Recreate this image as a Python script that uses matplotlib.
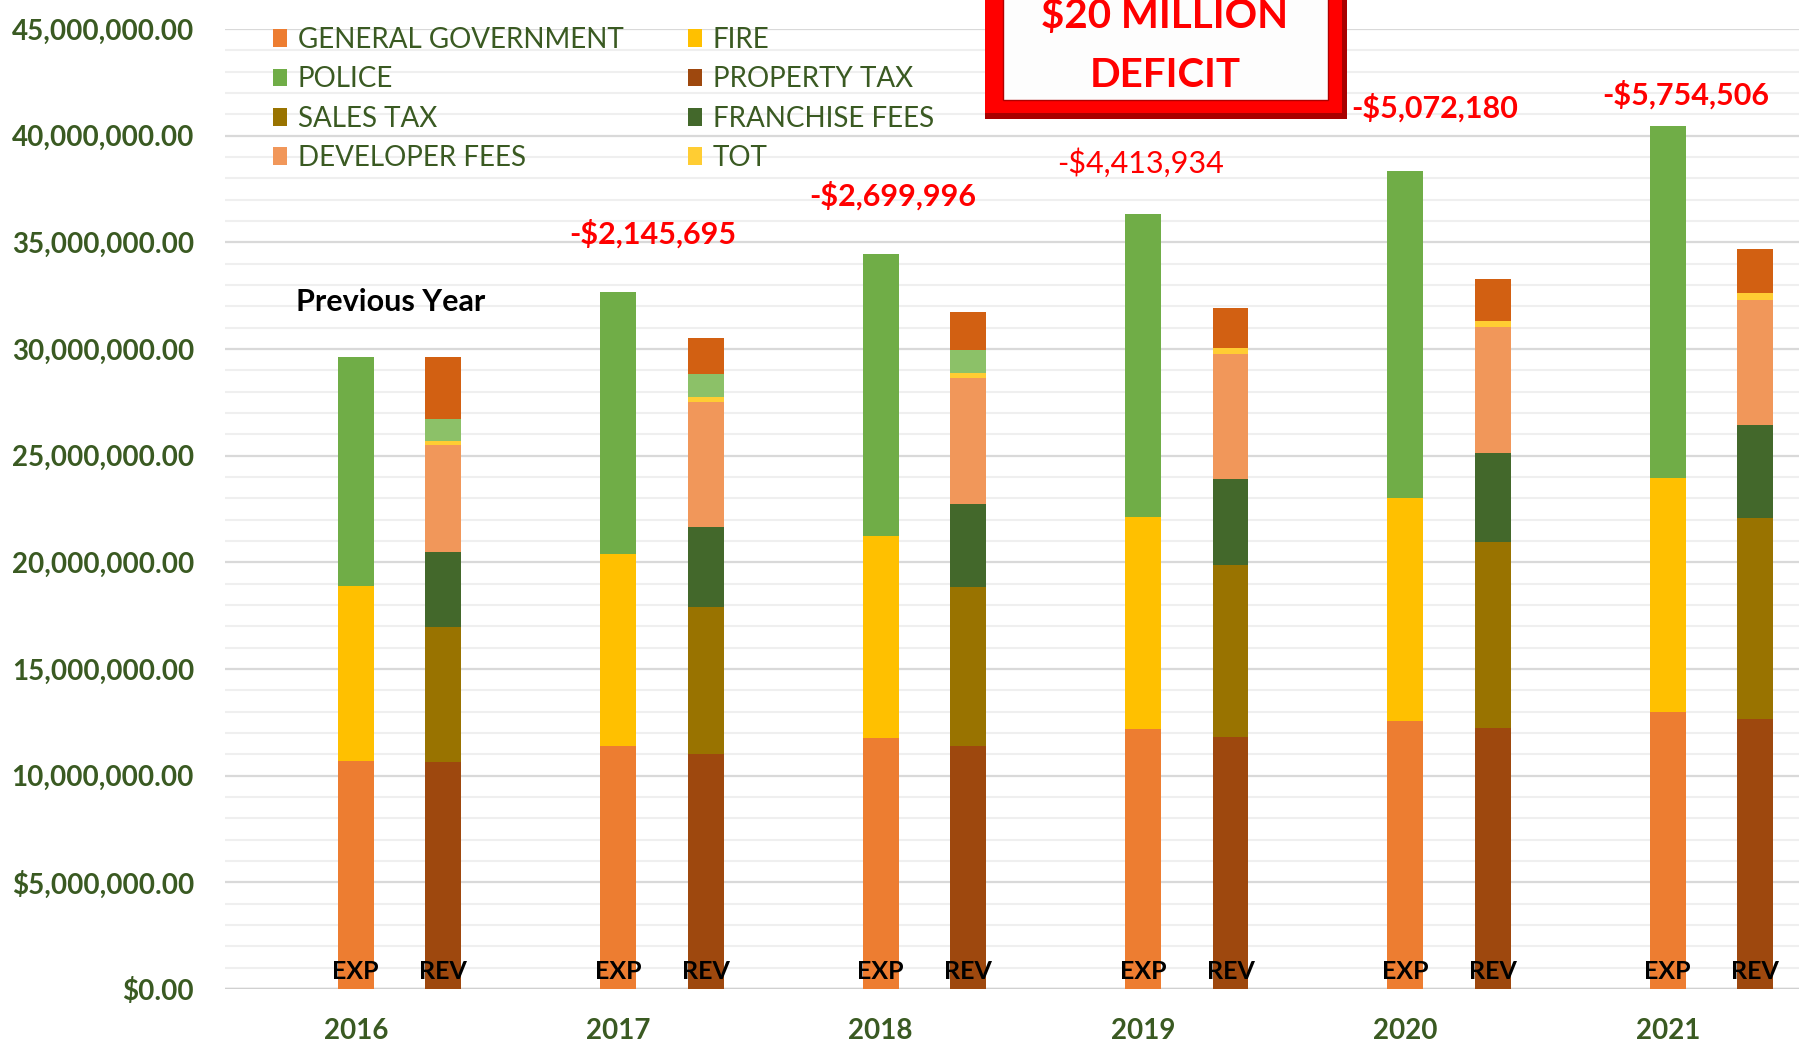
import matplotlib
matplotlib.use("Agg")
import matplotlib.pyplot as plt
from matplotlib.patches import Rectangle
import numpy as np

plt.rcParams['font.family'] = ['Lato', 'DejaVu Sans']

# Datos (millones de dolares)
years = ["2016", "2017", "2018", "2019", "2020", "2021"]

# Gastos (EXP)
general_government = [10.68, 11.37, 11.75, 12.18, 12.56, 12.99]
fire = [8.20, 9.01, 9.47, 9.95, 10.47, 10.97]
police = [10.75, 12.27, 13.22, 14.22, 15.32, 16.48]

# Ingresos (REV)
property_tax = [10.62, 11.00, 11.37, 11.81, 12.24, 12.67]
sales_tax = [6.37, 6.91, 7.48, 8.07, 8.70, 9.40]
franchise_fees = [3.51, 3.74, 3.90, 4.03, 4.20, 4.37]
developer_fees = [5.00, 5.88, 5.91, 5.87, 5.90, 5.88]
tot = [0.19, 0.22, 0.23, 0.29, 0.28, 0.32]
other = [1.03, 1.08, 1.08, 0.0, 0.0, 0.0]
misc = [2.92, 1.68, 1.77, 1.86, 1.95, 2.05]

deficits = [None, -2145695, -2699996, -4413934, -5072180, -5754506]
deficit_bold = [True, True, True, False, True, True]

ytick_labels = ["$0.00", "$5,000,000.00", "10,000,000.00", "15,000,000.00",
                "20,000,000.00", "25,000,000.00", "30,000,000.00",
                "35,000,000.00", "40,000,000.00", "45,000,000.00"]

exp_series = [
    ("GENERAL GOVERNMENT", general_government, "#ED7D31"),
    ("FIRE", fire, "#FFC000"),
    ("POLICE", police, "#70AD47"),
]
rev_series = [
    ("PROPERTY TAX", property_tax, "#9E480E"),
    ("SALES TAX", sales_tax, "#997300"),
    ("FRANCHISE FEES", franchise_fees, "#43682B"),
    ("DEVELOPER FEES", developer_fees, "#F1975A"),
    ("TOT", tot, "#FFCD33"),
    ("_other", other, "#8CC168"),
    ("_misc", misc, "#D26012"),
]

W, H = 1806, 1055
fig = plt.figure(figsize=(W / 100, H / 100), dpi=100)
ax = fig.add_axes([224.6 / W, 1 - 989 / H, (1799 - 224.6) / W, (989 - 29) / H])

x_exp = np.arange(len(years)) * 3 + 1
x_rev = x_exp + 1
bw = 0.41

handles = {}
bottom = np.zeros(len(years))
for name, vals, col in exp_series:
    v = np.array(vals) * 1e6
    b = ax.bar(x_exp, v, bw, bottom=bottom, color=col, linewidth=0, zorder=3)
    handles[name] = b
    bottom = bottom + v
exp_total = bottom

bottom = np.zeros(len(years))
for name, vals, col in rev_series:
    v = np.array(vals) * 1e6
    b = ax.bar(x_rev, v, bw, bottom=bottom, color=col, linewidth=0, zorder=3)
    handles[name] = b
    bottom = bottom + v

# ejes
ax.set_xlim(-0.5, 17.5)
ax.set_ylim(0, 45e6)
ax.set_yticks(np.arange(0, 45e6 + 1, 5e6))
ax.set_yticklabels(ytick_labels)
ax.set_yticks(np.arange(0, 45e6 + 1, 1e6), minor=True)
ax.set_xticks(x_exp)
ax.set_xticklabels(years)
ax.tick_params(axis='y', which='both', length=0, pad=22, labelsize=20,
               labelcolor='#3A5A22')
ax.tick_params(axis='x', length=0, pad=21, labelsize=20, labelcolor='#3A5A22')
for t in ax.get_yticklabels() + ax.get_xticklabels():
    t.set_fontweight('bold')
ax.grid(axis='y', which='minor', color='#EFEFEF', lw=1.5, zorder=0)
ax.grid(axis='y', which='major', color='#D9D9D9', lw=1.6, zorder=0)
ax.set_axisbelow(True)
ax.axhline(0, color='#D0D0D0', lw=2.5, zorder=1)
for s in ax.spines.values():
    s.set_visible(False)

# etiquetas EXP / REV
for i in range(len(years)):
    ax.text(x_exp[i], 0.8e6, "EXP", ha='center', va='center', fontsize=18,
            fontweight='bold', color='black', zorder=4)
    ax.text(x_rev[i], 0.8e6, "REV", ha='center', va='center', fontsize=18,
            fontweight='bold', color='black', zorder=4)

ax.text(1.4, 32.2e6, "Previous Year", ha='center', va='center', fontsize=22,
        fontweight='bold', color='black')

# deficit
lbl_dx = [0, 0.40, 0.14, -0.03, 0.33, 0.21]
lbl_dy = [0, 2.75e6, 2.76e6, 2.35e6, 2.95e6, 1.46e6]
for i, d in enumerate(deficits):
    if d is None:
        continue
    ax.text(x_exp[i] + lbl_dx[i], exp_total[i] + lbl_dy[i], "-${:,}".format(-d),
            ha='center', va='center', fontsize=22, color='#FF0000',
            fontweight='bold' if deficit_bold[i] else 'normal', zorder=5)

# leyenda
order = ["GENERAL GOVERNMENT", "POLICE", "SALES TAX", "DEVELOPER FEES",
         "FIRE", "PROPERTY TAX", "FRANCHISE FEES", "TOT"]
leg = fig.legend([handles[k] for k in order], order, ncol=2, frameon=False,
                 loc='upper left', bbox_to_anchor=(273 / W, 1 - 27 / H),
                 fontsize=20, handlelength=0.5, handleheight=0.6,
                 handletextpad=0.4, columnspacing=2.3, labelspacing=0.48,
                 borderpad=0, borderaxespad=0)
for t in leg.get_texts():
    t.set_color('#3A5A22')


# cuadro "$20 MILLION DEFICIT"
def px(x0, y0, x1, y1):
    return (x0 / W, 1 - y1 / H), (x1 - x0) / W, (y1 - y0) / H


xy, w, h = px(985, -30, 1347, 119)
fig.patches.append(Rectangle(xy, w, h, transform=fig.transFigure,
                             facecolor='#A80000', edgecolor='none', zorder=10))
xy, w, h = px(985, -30, 1342, 113)
fig.patches.append(Rectangle(xy, w, h, transform=fig.transFigure,
                             facecolor='#FF0000', edgecolor='none', zorder=11))
xy, w, h = px(1003, -30, 1328, 100)
fig.patches.append(Rectangle(xy, w, h, transform=fig.transFigure,
                             facecolor='#FDFDFD', edgecolor='#B00000', lw=1,
                             zorder=12))
fig.text(1165 / W, 1 - 28 / H, "$20 MILLION", ha='center', va='baseline',
         fontsize=29, fontweight='bold', color='#FF0000', zorder=13)
fig.text(1165 / W, 1 - 87 / H, "DEFICIT", ha='center', va='baseline',
         fontsize=29, fontweight='bold', color='#FF0000', zorder=13)

fig.savefig("out.png", dpi=100)
